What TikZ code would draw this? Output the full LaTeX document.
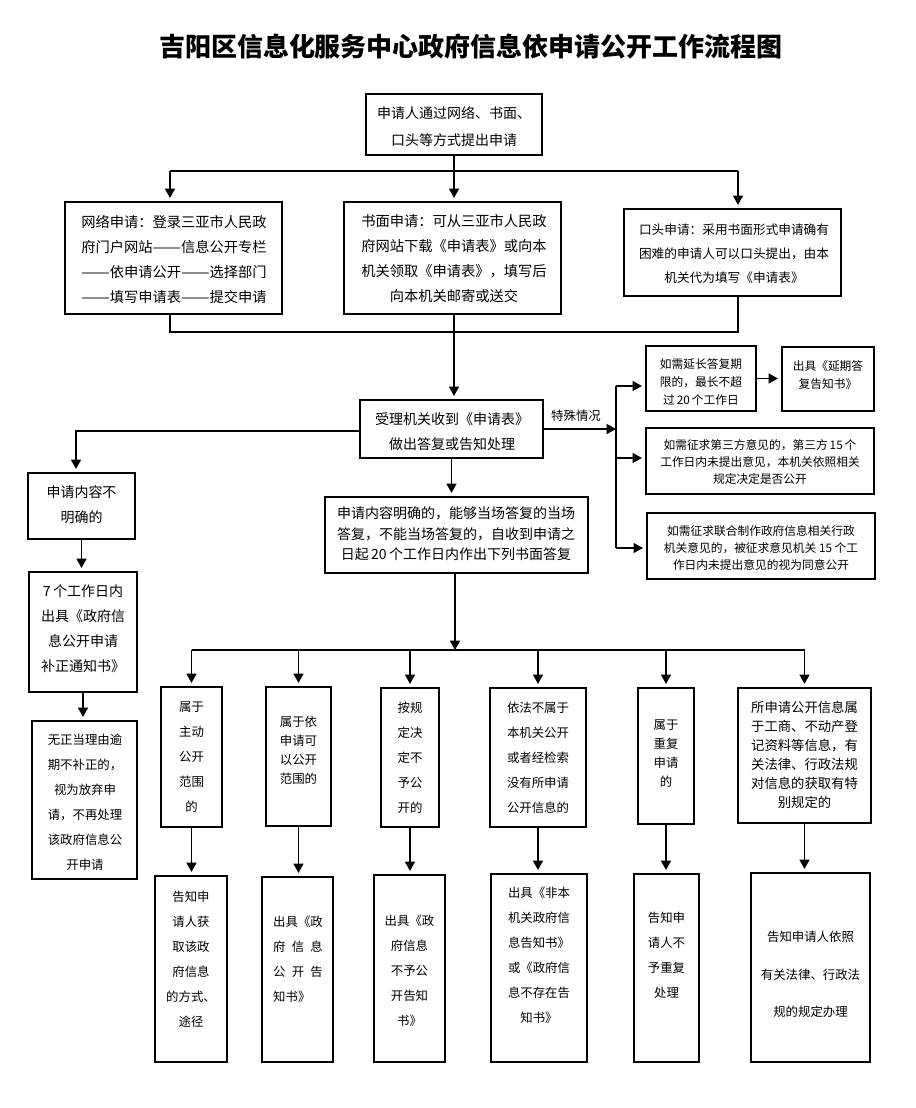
\documentclass[tikz,border=0pt]{standalone}
\usepackage{fontspec}
\usepackage{graphicx}
\setmainfont{Noto Sans CJK SC}
\usetikzlibrary{arrows.meta,fit}
\newcommand{\twodash}{\makebox[2em]{\resizebox{2em}{\height}{——}}}
\tikzset{
  box/.style={draw, line width=1.1pt, inner sep=0pt},
  ln/.style={line width=1.1pt},
  arr/.style={line width=1.1pt, -{Triangle[length=7pt,width=7.5pt]}, shorten >=2.5pt},
  tx/.style 2 args={align=center, inner sep=0pt, font=\fontsize{#1pt}{#2pt}\selectfont},
}
\begin{document}
\begin{tikzpicture}[x=0.75pt,y=-0.75pt]
\useasboundingbox (0,0) rectangle (916,1108);
% title
\node[inner sep=0pt, font=\fontsize{19.5pt}{24pt}\selectfont\bfseries] (title) at (471,47) {吉阳区信息化服务中心政府信息依申请公开工作流程图};

% top
\node[box, fit={(366,94)(542,155)}] (top) {};
\node[tx={10.5}{20}] (top-t) at (454,126.5) {申请人通过网络、书面、\\口头等方式提出申请};

% three ways
\node[box, fit={(65,202)(282,314)}] (web) {};
\node[tx={10.7}{18.75}] (web-t) at (174,259) {网络申请：登录三亚市人民政\\府门户网站\twodash 信息公开专栏\\\twodash 依申请公开\twodash 选择部门\\\twodash 填写申请表\twodash 提交申请};
\node[box, fit={(344,202)(561,314)}] (mid) {};
\node[tx={10.7}{18.75}] (mid-t) at (454,259) {书面申请：可从三亚市人民政\\府网站下载《申请表》或向本\\机关领取《申请表》，填写后\\向本机关邮寄或送交};
\node[box, fit={(624,209)(841,296)}] (oral) {};
\node[tx={9.5}{18}] (oral-t) at (734,254) {口头申请：采用书面形式申请确有\\困难的申请人可以口头提出，由本\\机关代为填写《申请表》};

% receive
\node[box, fit={(360,400)(543,458)}] (recv) {};
\node[tx={10.5}{18.5}] (recv-t) at (452,432) {受理机关收到《申请表》\\做出答复或告知处理};
\node[tx={9.3}{12}] (spec) at (576,416) {特殊情况};

% special cases
\node[box, fit={(646,346)(756,411)}] (r1) {};
\node[tx={8.8}{13.3}] (r1-t) at (701,382) {如需延长答复期\\限的，最长不超\\过\,20\,个工作日};
\node[box, fit={(782,347)(874,411)}] (r1b) {};
\node[tx={8.8}{14}] (r1b-t) at (828,375) {出具《延期答\\复告知书》};
\node[box, fit={(646,428)(874,494)}] (r2) {};
\node[tx={8.8}{12.75}] (r2-t) at (760,462) {如需征求第三方意见的，第三方\,15\,个\\工作日内未提出意见，本机关依照相关\\规定决定是否公开};
\node[box, fit={(647,513)(875,579)}] (r3) {};
\node[tx={8.8}{12.75}] (r3-t) at (761,548) {如需征求联合制作政府信息相关行政\\机关意见的，被征求意见机关\ 15\ 个工\\作日内未提出意见的视为同意公开};

% left column
\node[box, fit={(28,473)(135,539)}] (unc) {};
\node[tx={10.5}{18.75}] (unc-t) at (81.5,504.5) {申请内容不\\明确的};
\node[box, fit={(29,572)(137,692)}] (n7) {};
\node[tx={10.5}{18.75}] (n7-t) at (83,628.5) {7\,个工作日内\\出具《政府信\\息公开申请\\补正通知书》};
\node[box, fit={(32,721)(137,879)}] (aband) {};
\node[tx={9.3}{18.75}] (aband-t) at (85,802.5) {无正当理由逾\\期不补正的，\\视为放弃申\\请，不再处理\\该政府信息公\\开申请};

% clear
\node[box, fit={(325,497)(588,573)}] (clear) {};
\node[tx={10.5}{15.5}] (clear-t) at (456,534) {申请内容明确的，能够当场答复的当场\\答复，不能当场答复的，自收到申请之\\日起\,20\,个工作日内作出下列书面答复};

% row 1
\node[box, fit={(161,687)(222,827)}] (b1) {};
\node[tx={9.3}{18.75}] (b1-t) at (191.5,757) {属于\\主动\\公开\\范围\\的};
\node[box, fit={(266,687)(331,826)}] (b2) {};
\node[tx={9.3}{14.25}] (b2-t) at (298.5,750) {属于依\\申请可\\以公开\\范围的};
\node[box, fit={(381,688)(439,827)}] (b3) {};
\node[tx={9.3}{18.75}] (b3-t) at (410,757.5) {按规\\定决\\定不\\予公\\开的};
\node[box, fit={(490,688)(586,827)}] (b4) {};
\node[tx={9.3}{18.75}] (b4-t) at (538,757.5) {依法不属于\\本机关公开\\或者经检索\\没有所申请\\公开信息的};
\node[box, fit={(638,688)(694,824)}] (b5) {};
\node[tx={9.3}{14.25}] (b5-t) at (666,753.5) {属于\\重复\\申请\\的};
\node[box, fit={(738,688)(871,823)}] (b6) {};
\node[tx={10}{14.25}] (b6-t) at (804.5,754.5) {所申请公开信息属\\于工商、不动产登\\记资料等信息，有\\关法律、行政法规\\对信息的获取有特\\别规定的};

% row 2
\node[box, fit={(155,876)(227,1062)}] (c1) {};
\node[tx={9.3}{18.75}] (c1-t) at (191,959) {告知申\\请人获\\取该政\\府信息\\的方式、\\途径};
\node[box, fit={(262,877)(333,1062)}] (c2) {};
\node[tx={9.3}{18.75}, align=left] (c2-t) at (298,959.5) {出具《政\\府\hspace{.5em}信\hspace{.5em}息\\公\hspace{.5em}开\hspace{.5em}告\\知书》};
\node[box, fit={(374,875)(445,1062)}] (c3) {};
\node[tx={9.3}{18.75}] (c3-t) at (409.5,971) {出具《政\\府信息\\不予公\\开告知\\书》};
\node[box, fit={(491,874)(587,1062)}] (c4) {};
\node[tx={9.3}{18.75}] (c4-t) at (539,955.5) {出具《非本\\机关政府信\\息告知书》\\或《政府信\\息不存在告\\知书》};
\node[box, fit={(634,874)(699,1062)}] (c5) {};
\node[tx={9.3}{18.75}] (c5-t) at (666.5,955.5) {告知申\\请人不\\予重复\\处理};
\node[box, fit={(751,873)(870,1062)}] (c6) {};
\node[tx={9.3}{28}] (c6-t) at (810.5,974.5) {告知申请人依照\\有关法律、行政法\\规的规定办理};

% connectors: top split
\coordinate (j1) at (454,171);
\coordinate (j1L) at (170,171);
\coordinate (j1R) at (738,171);
\draw[ln] (top.south) -- (j1);
\draw[ln] (j1L) -- (j1R);
\draw[arr] (j1L) -- (j1L |- web.north);
\draw[arr] (j1) -- (j1 |- mid.north);
\draw[arr] (j1R) -- (j1R |- oral.north);
% join
\coordinate (j2L) at (170,332);
\coordinate (j2R) at (738,332);
\draw[ln] (web.south -| j2L) -- (j2L) -- (j2R) -- (oral.south -| j2R);
\draw[arr] (mid.south -| j1) -- (recv.north -| j1);
% special
\coordinate (vT) at (616,386);
\coordinate (vM) at (616,458);
\coordinate (vB) at (616,548);
\draw[arr, shorten >=0pt] (recv.east) -- (recv.east -| vT);
\draw[ln] (vT) -- (vB);
\draw[arr] (vT) -- (vT -| r1.west);
\draw[arr] (vM) -- (vM -| r2.west);
\draw[arr] (vB) -- (vB -| r3.west);
\draw[arr] (r1.east) -- (r1.east -| r1b.west);
% left column
\coordinate (uL) at (76,431);
\draw[arr] (recv.west |- uL) -- (uL) -- (uL |- unc.north);
\draw[arr] (unc.south) -- (unc.south |- n7.north);
\draw[arr] (n7.south) -- (n7.south |- aband.north);
% clear
\draw[arr] (recv.south) -- (recv.south |- clear.north);
\coordinate (h) at (455,650);
\draw[arr, shorten >=0pt] (clear.south -| h) -- (h);
\draw[ln] (b1.north |- h) -- (b6.north |- h);
\foreach \b/\c in {b1/c1,b2/c2,b3/c3,b4/c4,b5/c5,b6/c6}{
  \draw[arr] (\b.north |- h) -- (\b.north);
  \draw[arr] (\b.south) -- (\b.south |- \c.north);
}
\end{tikzpicture}
\end{document}
